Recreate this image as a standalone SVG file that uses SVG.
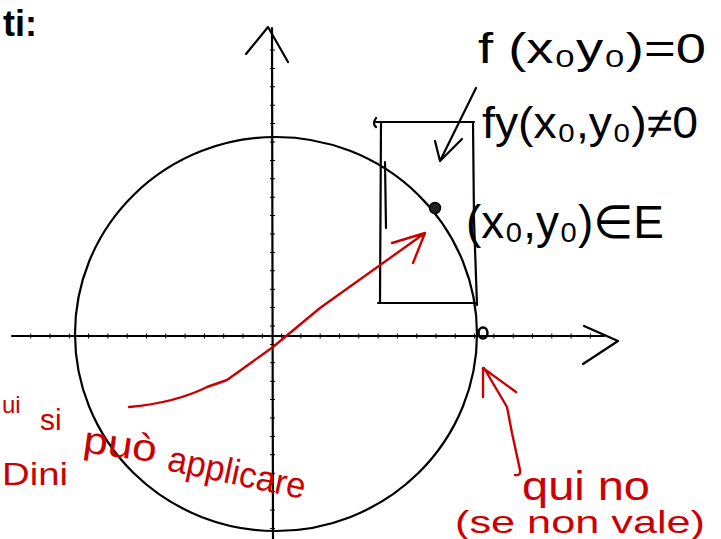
<svg xmlns="http://www.w3.org/2000/svg" width="721" height="539" viewBox="0 0 721 539">
<style>
.ink{fill:none;stroke:#000;stroke-width:2.2;stroke-linecap:round;stroke-linejoin:round}
.red{fill:none;stroke:#cc0000;stroke-width:2.4;stroke-linecap:round;stroke-linejoin:round}
.tick{fill:none;stroke:#000;stroke-width:5}
.bt{font-family:"Liberation Sans","DejaVu Sans",sans-serif;fill:#000}
.rt{font-family:"Liberation Sans","DejaVu Sans",sans-serif;fill:#cc0000}
</style>
<rect width="721" height="539" fill="#fff"/>
<g id="axes">
<line class="ink" x1="12" y1="336" x2="604" y2="336"/>
<line class="tick" x1="30.2" y1="336" x2="603" y2="336" stroke-dasharray="1 18.3"/>
<polyline class="ink" points="584,326 618,341 583,364"/>
<line class="ink" x1="272" y1="28" x2="273" y2="539"/>
<line class="tick" x1="272.5" y1="49.5" x2="272.5" y2="539" stroke-dasharray="1 17.4"/>
<polyline class="ink" points="246,54 268,27 288,62"/>
</g>
<g id="circle">
<ellipse class="ink" cx="276" cy="334" rx="201" ry="197"/>
</g>
<g id="rectangle">
<path class="ink" d="M375,122 L474,122 M381,122 L380,303 M378,303 L477,303 M473,122 L474,220 L477,305 M385,162 L386,228 M376,118 Q372,124 376,127"/>
</g>
<g id="point-x0y0">
<circle cx="435" cy="208" r="5.5" fill="#222" stroke="#000" stroke-width="1.5"/>
</g>
<g id="point-axis">
<ellipse cx="483" cy="333" rx="4.5" ry="5.5" fill="none" stroke="#000" stroke-width="2.5"/>
</g>
<g id="connectors">
<path class="ink" d="M476,88 L440,161 M435,141 L440,161 L462,139" stroke-width="2.8"/>
<path class="red" d="M129,407 Q175,403 207,387 L227,380 L273,347 L320,308 L425,233 M392,243 L425,233 L413,263"/>
<path class="red" d="M515,475 Q521,476 520,470 L512,433 L507,407 L484,368 M483,397 L483,368 L516,392"/>
</g>
<g id="labels">
<text class="bt" x="3" y="36" font-size="36" font-weight="bold">ti:</text>
<text class="bt" x="478" y="63" font-size="42" textLength="228" lengthAdjust="spacingAndGlyphs">f (x₀y₀)=0</text>
<text class="bt" x="482" y="138" font-size="44" textLength="216" lengthAdjust="spacingAndGlyphs">fy(x₀,y₀)≠0</text>
<text class="bt" x="466" y="238" font-size="46" textLength="198" lengthAdjust="spacingAndGlyphs">(x₀,y₀)∈E</text>
<text class="rt" x="2" y="413" font-size="24">ui</text>
<text class="rt" x="40" y="430" font-size="30">si</text>
<text class="rt" x="82" y="452" font-size="38" textLength="74" lengthAdjust="spacingAndGlyphs" transform="rotate(8 82 452)">può</text>
<text class="rt" x="166" y="470" font-size="36" textLength="140" lengthAdjust="spacingAndGlyphs" transform="rotate(12 166 470)">applicare</text>
<text class="rt" x="2" y="485" font-size="32" textLength="66" lengthAdjust="spacingAndGlyphs">Dini</text>
<text class="rt" x="522" y="500" font-size="40" textLength="128" lengthAdjust="spacingAndGlyphs">qui no</text>
<text class="rt" x="455" y="533" font-size="32" textLength="250" lengthAdjust="spacingAndGlyphs">(se non vale)</text>
</g>
</svg>
